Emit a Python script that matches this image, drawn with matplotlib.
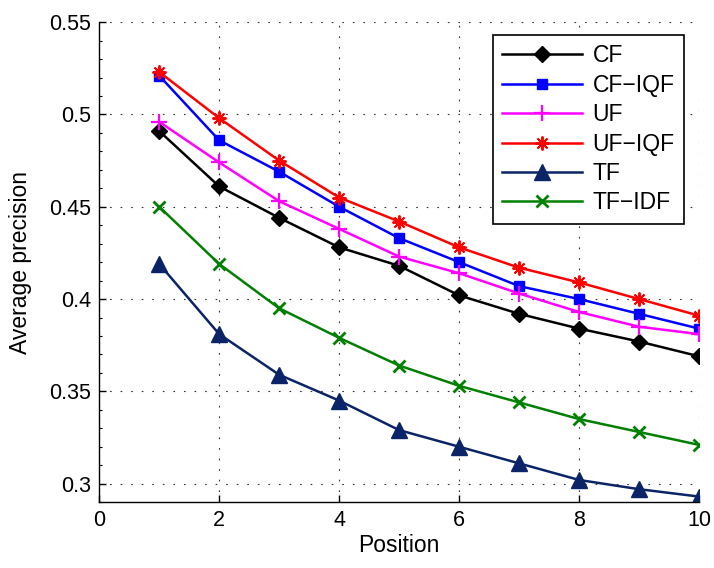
#!/usr/bin/env python3

from matplotlib import pyplot as plt
from matplotlib.ticker import MultipleLocator
import numpy as np

position = np.arange(1, 11)

cf = [0.491, 0.461, 0.444, 0.428, 0.418, 0.402, 0.392, 0.384, 0.377, 0.369]
cf_iqf = [0.521, 0.486, 0.469, 0.450, 0.433, 0.420, 0.407, 0.400, 0.392, 0.384]
uf = [0.496, 0.474, 0.453, 0.438, 0.423, 0.414, 0.403, 0.393, 0.385, 0.381]
uf_iqf = [0.523, 0.498, 0.475, 0.455, 0.442, 0.428, 0.417, 0.409, 0.400, 0.391]
tf = [0.419, 0.381, 0.359, 0.345, 0.329, 0.320, 0.311, 0.302, 0.297, 0.293]
tf_idf = [0.450, 0.419, 0.395, 0.379, 0.364, 0.353, 0.344, 0.335, 0.328, 0.321]


def setup():
    plt.rcParams.update({
        "font.family": ["Liberation Sans", "DejaVu Sans"],
        "font.size": 15.5,
        "xtick.direction": "in",
        "ytick.direction": "in",
        "axes.linewidth": 1.0,
    })


def plot_precision():
    fig = plt.figure(figsize=(7.14, 5.68), dpi=100)
    ax = fig.add_axes([0.139, 0.116, 0.840, 0.845])

    lw = 1.8
    ax.plot(position, cf, "-D", color="black", lw=lw, ms=8, label="CF")
    ax.plot(position, cf_iqf, "-s", color="blue", lw=lw, ms=7.5, label="CF\u2212IQF")
    ax.plot(position, uf, "-+", color="magenta", lw=lw, ms=11, mew=1.6, label="UF")
    ax.plot(position, uf_iqf, "-", marker=(8, 2, 0), color="red", lw=lw, ms=10,
            mew=1.4, label="UF\u2212IQF")
    ax.plot(position, tf, "-^", color="#0b2467", lw=lw, ms=12, label="TF")
    ax.plot(position, tf_idf, "-x", color="#008000", lw=lw, ms=8, mew=2,
            label="TF\u2212IDF")

    ax.set_xlim(0, 10)
    ax.set_ylim(0.29, 0.55)
    ax.set_xticks(np.arange(0, 11, 2))
    ax.set_yticks([0.3, 0.35, 0.4, 0.45, 0.5, 0.55])
    ax.set_yticklabels(["0.3", "0.35", "0.4", "0.45", "0.5", "0.55"])
    ax.yaxis.set_minor_locator(MultipleLocator(0.01))
    ax.tick_params(which="minor", length=2.5, width=0.8)
    ax.tick_params(which="major", length=5, width=1.0, pad=6)
    ax.spines["top"].set_visible(False)
    ax.spines["right"].set_visible(False)
    ax.grid(True, which="major", linestyle=(0, (1.5, 8)), color="#333333", lw=0.8)
    ax.set_axisbelow(True)

    ax.set_xlabel("Position", fontsize=16.5, labelpad=2)
    ax.set_ylabel("Average precision", fontsize=16.5, labelpad=12)

    leg = ax.legend(loc="upper right", fancybox=False, framealpha=1,
                    edgecolor="black", fontsize=16.5, borderpad=0.4,
                    handlelength=3.5, handletextpad=0.45, labelspacing=0.28,
                    borderaxespad=0, bbox_to_anchor=(0.975, 0.973))
    leg.get_frame().set_linewidth(1.2)
    return fig


def main():
    setup()
    fig = plot_precision()
    fig.savefig("out.png", dpi=100)


if __name__ == "__main__":
    main()
